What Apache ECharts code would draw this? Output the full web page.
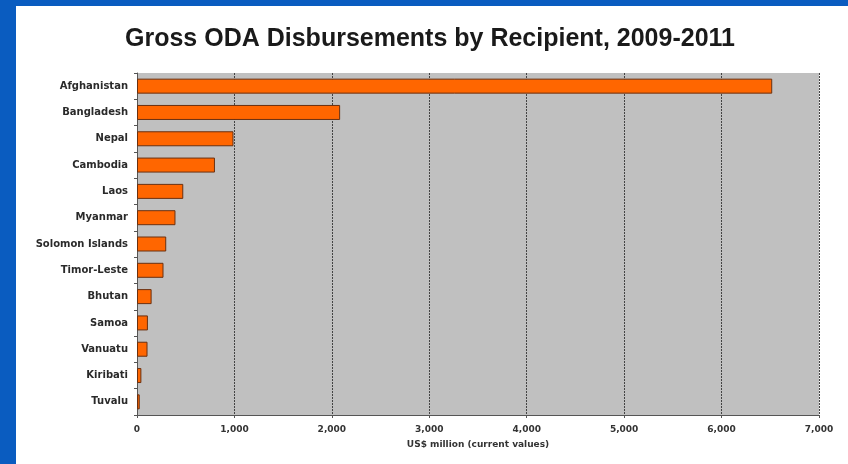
<!DOCTYPE html>
<html><head><meta charset="utf-8">
<script src="https://cdn.jsdelivr.net/npm/echarts@6/dist/echarts.min.js"></script>
<style>html,body{margin:0;padding:0;background:#0a5cc0;}#c{width:848px;height:464px;}</style>
</head><body><div id="c"></div>
<script>
const categories = ["Afghanistan","Bangladesh","Nepal","Cambodia","Laos","Myanmar","Solomon Islands","Timor-Leste","Bhutan","Samoa","Vanuatu","Kiribati","Tuvalu"];
const values = [6520, 2085, 990, 800, 475, 395, 300, 272, 150, 112, 108, 45, 28];
const xTicks = [0,1000,2000,3000,4000,5000,6000,7000];

const chart = echarts.init(document.getElementById('c'), null, {renderer:'canvas'});
chart.setOption({
  backgroundColor: 'transparent',
  graphic: [
    {type:'rect', shape:{x:0,y:0,width:848,height:464}, style:{fill:'#0a5cc0'}, z:-10},
    {type:'rect', shape:{x:16,y:6,width:832,height:458}, style:{fill:'#ffffff'}, z:-9}
  ],
  title: {
    text: 'Gross ODA Disbursements by Recipient, 2009-2011',
    left: 425, top: 22, textAlign: 'center',
    textStyle: {fontFamily:'Liberation Sans, Arial', fontWeight:'bold', fontSize:25, color:'#1a1a1a'}
  },
  grid: {left:137, right:29, top:73, bottom:49, containLabel:false, show:true, backgroundColor:'#c0c0c0', borderWidth:0},
  xAxis: {
    type:'value', min:0, max:7000, interval:1000,
    name:'US$ million (current values)', nameLocation:'middle', nameGap:25,
    nameTextStyle:{fontFamily:'DejaVu Sans', fontWeight:'bold', fontSize:9, color:'#333'},
    axisLine:{show:true, lineStyle:{color:'#555', width:1}},
    axisTick:{show:true, length:3, lineStyle:{color:'#555'}},
    axisLabel:{fontFamily:'DejaVu Sans', fontWeight:'bold', fontSize:9, color:'#333', margin:10,
      formatter: v => xTicks.includes(v) ? v.toLocaleString('en-US') : ''},
    splitLine:{show:true, lineStyle:{color:'#444', type:[2,1], width:1}}
  },
  yAxis: {
    type:'category', data:categories, inverse:true,
    axisLine:{show:true, lineStyle:{color:'#555', width:1}},
    axisTick:{show:true, length:3, lineStyle:{color:'#555'}},
    axisLabel:{fontFamily:'DejaVu Sans', fontWeight:'bold', fontSize:10, color:'#2a2a2a', margin:9},
    splitLine:{show:false}
  },
  series: [{
    type:'bar', data:values, barWidth:15,
    itemStyle:{color:'#ff6600', borderColor:'#6a3010', borderWidth:1},
    silent:true
  }]
});
</script></body></html>
